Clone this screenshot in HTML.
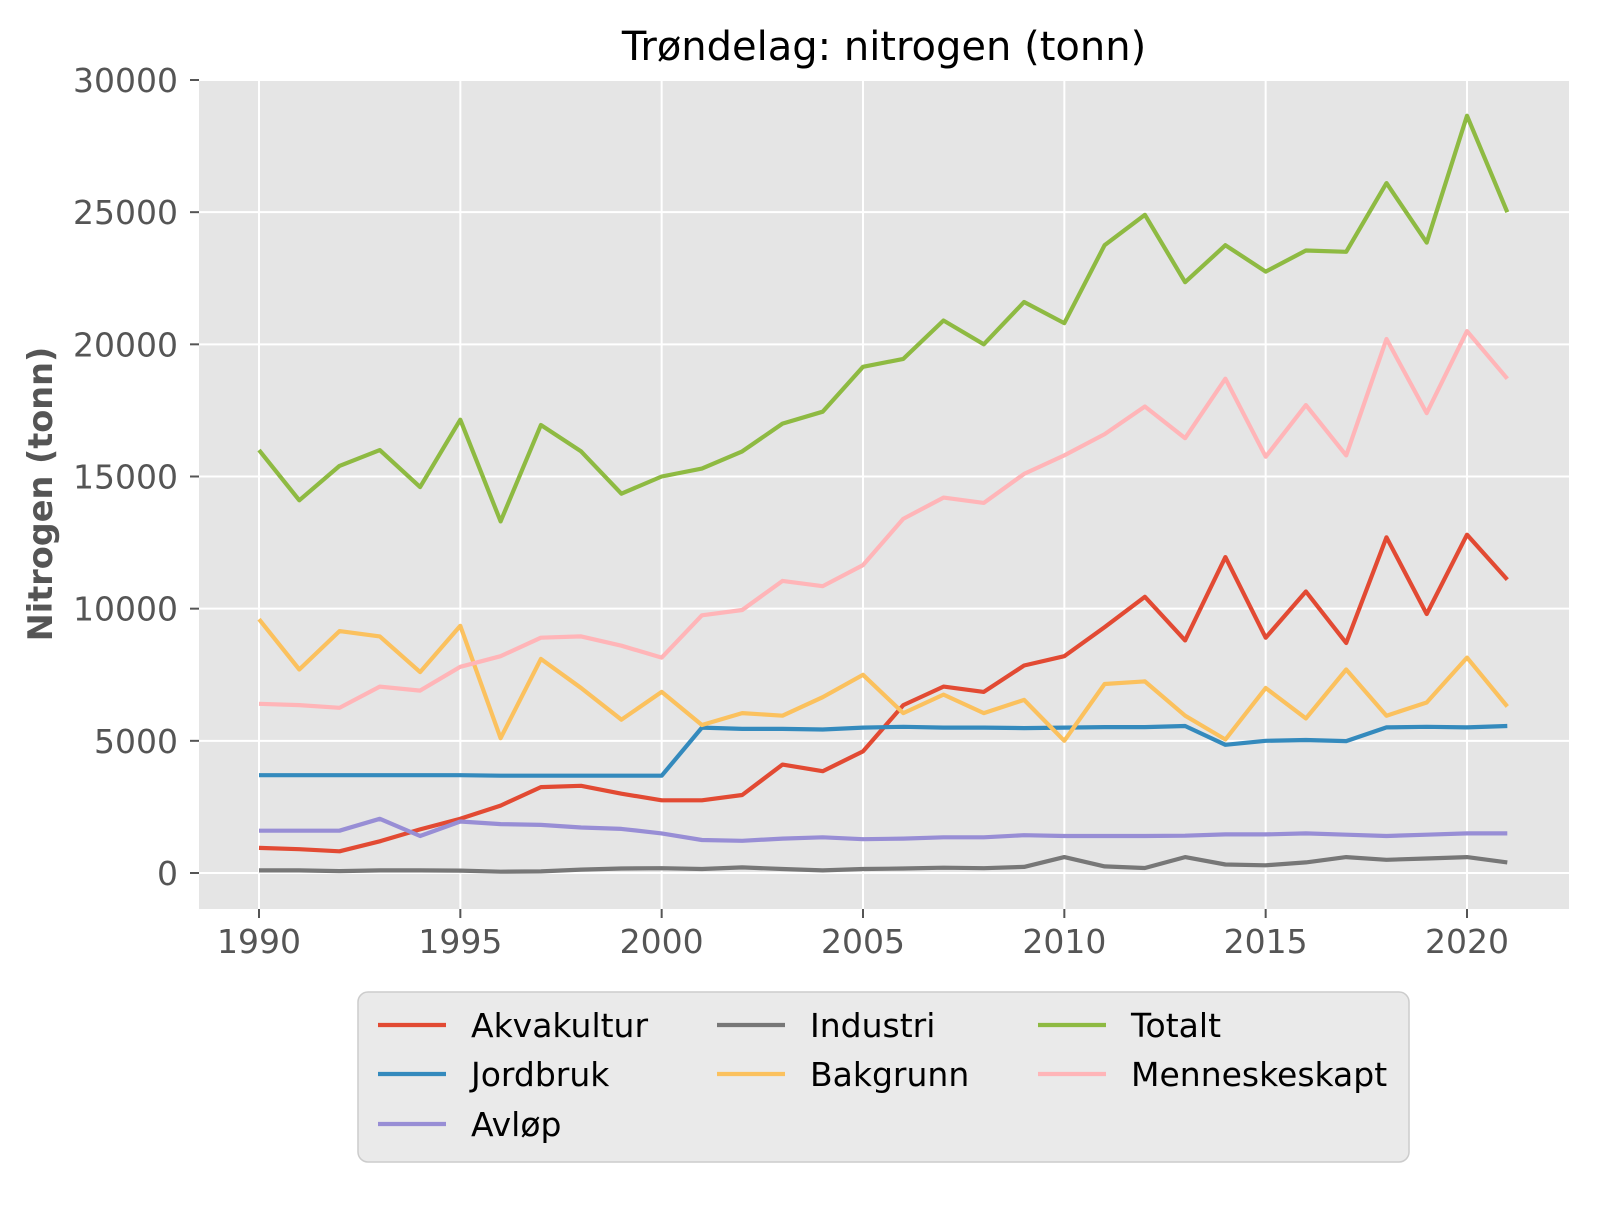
<!DOCTYPE html>
<html><head><meta charset="utf-8"><style>
html,body{margin:0;padding:0;background:#fff;}
svg text{font-family:"DejaVu Sans","Liberation Sans",sans-serif;}
</style></head><body>
<svg id="chart" width="1600" height="1200" viewBox="0 0 1600 1200" xmlns="http://www.w3.org/2000/svg">
<rect x="0" y="0" width="1600" height="1200" fill="#fff"/>
<text x="884" y="60" font-size="40" text-anchor="middle" fill="#000">Trøndelag: nitrogen (tonn)</text>
<rect x="199" y="80" width="1370" height="829" fill="#e5e5e5"/>
<g id="grid"></g>
<g id="series"></g>
<text transform="translate(52,494) rotate(-90)" font-size="33.5" font-weight="bold" text-anchor="middle" fill="#555">Nitrogen (tonn)</text>
<g id="legend">
<rect x="358" y="992" width="1051" height="170" rx="10" fill="#e5e5e5" fill-opacity="0.8" stroke="#ccc" stroke-width="1.5"/>
</g>
</svg>
<script>
const years = [];
for (let y = 1990; y <= 2021; y++) years.push(y);
const akvakultur = [950,900,820,1200,1650,2050,2550,3250,3300,3000,2750,2750,2950,4100,3850,4600,6350,7050,6850,7850,8200,9300,10450,8800,11950,8900,10650,8700,12700,9800,12800,11100];
const jordbruk = [3700,3700,3700,3700,3700,3700,3680,3680,3680,3680,3680,5500,5450,5450,5430,5500,5530,5500,5500,5480,5500,5520,5520,5560,4850,5000,5030,4990,5510,5530,5510,5560];
const avlop = [1600,1600,1600,2050,1400,1950,1850,1820,1720,1670,1500,1250,1220,1300,1350,1280,1300,1350,1350,1430,1400,1400,1400,1410,1460,1460,1500,1450,1400,1450,1500,1500];
const industri = [100,100,70,100,100,90,50,60,130,170,180,150,210,150,100,150,170,200,180,230,600,250,190,600,320,290,400,600,500,550,600,400];
const bakgrunn = [9600,7700,9150,8950,7600,9350,5100,8100,7000,5800,6850,5600,6050,5950,6650,7500,6050,6750,6050,6550,5000,7150,7250,5950,5050,7000,5850,7700,5950,6450,8150,6300];
const totalt = [16000,14100,15400,16000,14600,17150,13300,16950,15950,14350,15000,15300,15950,17000,17450,19150,19450,20900,20000,21600,20800,23750,24900,22350,23750,22750,23550,23500,26100,23850,28650,25000];
const menneskeskapt = [6400,6350,6250,7050,6900,7800,8200,8900,8950,8600,8150,9750,9950,11050,10850,11650,13400,14200,14000,15100,15800,16600,17650,16450,18700,15750,17700,15800,20200,17400,20500,18700];
const xTicks = [1990,1995,2000,2005,2010,2015,2020];
const yTicks = [0,5000,10000,15000,20000,25000,30000];
const seriesNames = ["Akvakultur","Jordbruk","Avløp","Industri","Bakgrunn","Totalt","Menneskeskapt"];

const NS = "http://www.w3.org/2000/svg";
function xs(v){ return 259 + (v - 1990) * (1467 - 259) / 30; }
function ys(v){ return 873 - v * (873 - 80) / 30000; }
function mk(tag, attrs, parent){ const e = document.createElementNS(NS, tag); for (const k in attrs) e.setAttribute(k, attrs[k]); parent.appendChild(e); return e; }

const grid = document.getElementById('grid');
xTicks.forEach(t => {
  const l = mk('line', {x1:xs(t), x2:xs(t), y1:80, y2:909, stroke:'#fff', 'stroke-width':2}, grid);
  
  
  mk('line', {x1:xs(t), x2:xs(t), y1:909, y2:918, stroke:'#555', 'stroke-width':2}, grid);
  const tx = mk('text', {x:xs(t), y:953, 'font-size':33, 'text-anchor':'middle', fill:'#555'}, grid);
  
  
  tx.textContent = t;
});
yTicks.forEach(t => {
  const l = mk('line', {x1:199, x2:1569, y1:ys(t), y2:ys(t), stroke:'#fff', 'stroke-width':2}, grid);
  
  
  mk('line', {x1:190, x2:199, y1:ys(t), y2:ys(t), stroke:'#555', 'stroke-width':2}, grid);
  const tx = mk('text', {x:178, y:ys(t) + 12, 'font-size':33, 'text-anchor':'end', fill:'#555'}, grid);
  
  
  tx.textContent = t;
});

const colors = ['#E24A33','#348ABD','#988ED5','#777777','#FBC15E','#8EBA42','#FFB5B8'];
const data = [akvakultur, jordbruk, avlop, industri, bakgrunn, totalt, menneskeskapt];
const sg = document.getElementById('series');
data.forEach((arr, i) => {
  const d = arr.map((v, j) => (j ? 'L' : 'M') + xs(years[j]).toFixed(1) + ',' + ys(v).toFixed(1)).join(' ');
  const p = mk('path', {d:d, fill:'none', stroke:colors[i], 'stroke-width':4.2, 'stroke-linejoin':'round'}, sg);
  
  
});

const lg = document.getElementById('legend');
const pos = [[378,1025],[378,1074],[378,1124],[717,1025],[717,1074],[1038,1025],[1038,1074]];
seriesNames.forEach((n, i) => {
  const g = mk('g', {}, lg);
  
  
  const [x, y] = pos[i];
  mk('line', {x1:x, x2:x + 68, y1:y, y2:y, stroke:colors[i], 'stroke-width':4.2}, g);
  const t = mk('text', {x:x + 93, y:y + 12, 'font-size':33, fill:'#000'}, g);
  t.textContent = n;
});
</script>
</body></html>
